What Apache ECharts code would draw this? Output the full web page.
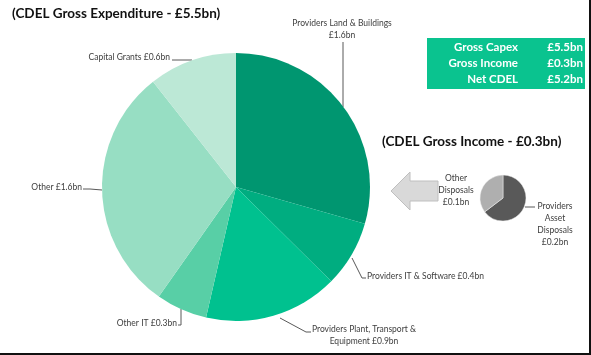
<!DOCTYPE html>
<html><head><meta charset="utf-8">
<script src="https://cdn.jsdelivr.net/npm/echarts@6/dist/echarts.min.js"></script>
<style>html,body{margin:0;padding:0;background:#fff}#c{width:591px;height:355px}</style>
</head><body><div id="c"></div>
<script>
// Data
const expCategories = ['Providers Land & Buildings','Providers IT & Software','Providers Plant, Transport & Equipment','Other IT','Other','Capital Grants'];
const expValues = [1.62, 0.44, 0.89, 0.34, 1.63, 0.585];
const expLabels = ['£1.6bn','£0.4bn','£0.9bn','£0.3bn','£1.6bn','£0.6bn'];
const incCategories = ['Providers Asset Disposals','Other Disposals'];
const incValues = [0.194, 0.106];
const incLabels = ['£0.2bn','£0.1bn'];
const summaryNames = ['Gross Capex','Gross Income','Net CDEL'];
const summaryValues = ['£5.5bn','£0.3bn','£5.2bn'];

const expColors = ['#009670','#00AD80','#00C18F','#58CFA6','#97DEC3','#BCE8D6'];
const incColors = ['#595959','#AFAFAF'];
const font = 'Lato, "Open Sans", sans-serif';

// label text templates (presentation)
const expLabelText = [
  n => n + '\n' + expLabels[0],
  n => n + ' ' + expLabels[1],
  n => 'Providers Plant, Transport &\nEquipment ' + expLabels[2],
  n => n + ' ' + expLabels[3],
  n => n + ' ' + expLabels[4],
  n => n + ' ' + expLabels[5]
];
const expLabelLayout = [
  {x:342, y:29, align:'center', verticalAlign:'middle', labelLinePoints:[[343,107],[343,42],[343,42]]},
  {x:367, y:276, align:'left', verticalAlign:'middle', labelLinePoints:[[352,258],[362,278],[366,278]]},
  {x:364, y:335, align:'center', verticalAlign:'middle', labelLinePoints:[[280,318],[306,332],[311,332]]},
  {x:177, y:323, align:'right', verticalAlign:'middle', labelLinePoints:[[181,309],[181,325],[178,325]]},
  {x:82, y:187, align:'right', verticalAlign:'middle', labelLinePoints:[[102,190],[90,189],[83,189]]},
  {x:170, y:57, align:'right', verticalAlign:'middle', labelLinePoints:[[192,60],[180,60],[172,60]]}
];
const incLabelText = [
  n => 'Providers\nAsset\nDisposals\n' + incLabels[0],
  n => 'Other\nDisposals\n' + incLabels[1]
];
const incLabelLayout = [
  {x:555, y:224, align:'center', verticalAlign:'middle', labelLinePoints:[[525,207],[530,207],[535,207]]},
  {x:456, y:190, align:'center', verticalAlign:'middle'}
];

const chart = echarts.init(document.getElementById('c'), null, {renderer:'canvas'});

const summaryTexts = [];
summaryNames.forEach((n,i)=>{
  summaryTexts.push({type:'text', right:73, top:41+i*16, style:{text:n, fill:'#fff', font:'bold 11.5px '+font, textAlign:'right'}});
  summaryTexts.push({type:'text', right:8, top:41+i*16, style:{text:summaryValues[i], fill:'#fff', font:'bold 11.5px '+font, textAlign:'right'}});
});

chart.setOption({
  backgroundColor:'#fff',
  animation:false,
  title:[
    {text:'(CDEL Gross Expenditure - £5.5bn)', left:7, top:2, textStyle:{fontFamily:font, fontSize:13.5, fontWeight:'bold', color:'#111'}},
    {text:'(CDEL Gross Income - £0.3bn)', left:377, top:130, textStyle:{fontFamily:font, fontSize:13.5, fontWeight:'bold', color:'#111'}}
  ],
  graphic:[
    {type:'rect', shape:{x:427, y:38, width:158, height:51}, style:{fill:'#0AC38F'}},
    ...summaryTexts,
    {type:'polygon', shape:{points:[[391,191],[410,172],[410,181],[438,181],[438,201],[410,201],[410,210]]}, style:{fill:'#D9D9D9', stroke:'#BFBFBF', lineWidth:1}},
    {type:'rect', shape:{x:589, y:0, width:2, height:355}, style:{fill:'#111'}},
    {type:'rect', shape:{x:0, y:353, width:591, height:2}, style:{fill:'#111'}}
  ],
  series:[
    {
      type:'pie', center:[236,187], radius:[0,134], startAngle:90, clockwise:true,
      data: expCategories.map((n,i)=>({name:n, value:expValues[i], itemStyle:{color:expColors[i]}})),
      label:{show:true, position:'outside', fontFamily:font, fontSize:8.5, color:'#404040', lineHeight:12,
        formatter:p=>expLabelText[p.dataIndex](p.name)},
      labelLine:{show:true, length:10, length2:10, lineStyle:{color:'#595959', width:1}},
      labelLayout:p=>expLabelLayout[p.dataIndex],
      emphasis:{disabled:true}
    },
    {
      type:'pie', center:[503,198], radius:[0,23], startAngle:90, clockwise:true,
      data: incCategories.map((n,i)=>({name:n, value:incValues[i], itemStyle:{color:incColors[i], borderColor:'#f0f0f0', borderWidth:0.5},
        labelLine:{show:i===0}})),
      label:{show:true, position:'outside', fontFamily:font, fontSize:8.5, color:'#404040', lineHeight:12,
        formatter:p=>incLabelText[p.dataIndex](p.name)},
      labelLine:{show:true, length:5, length2:5, lineStyle:{color:'#595959', width:1}},
      labelLayout:p=>incLabelLayout[p.dataIndex],
      emphasis:{disabled:true}
    }
  ]
});
</script></body></html>
